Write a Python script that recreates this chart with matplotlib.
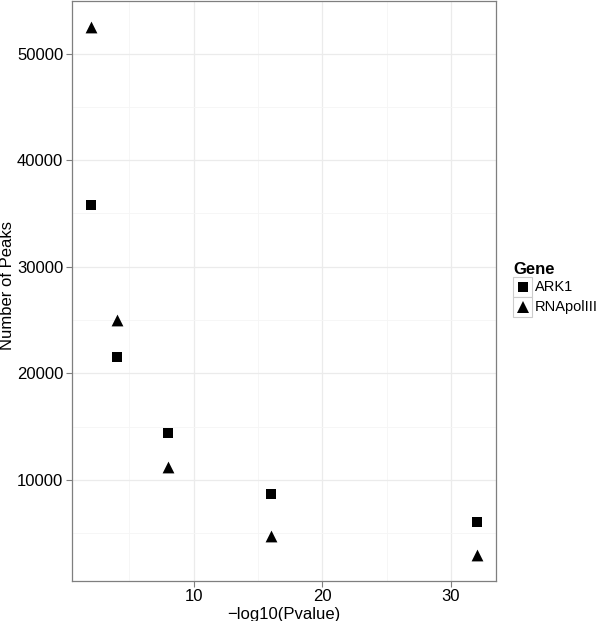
import matplotlib
matplotlib.use("Agg")
import matplotlib.pyplot as plt
from matplotlib.lines import Line2D
from matplotlib.patches import Rectangle

plt.rcParams['font.family'] = ['Liberation Sans', 'DejaVu Sans']

pvalue = [2, 4, 8, 16, 32]
ark1 = [35800, 21500, 14400, 8700, 6100]
rnapol = [52500, 25000, 11200, 4700, 3000]
genes = ["ARK1", "RNApolIII"]
x_ticks = [10, 20, 30]
y_ticks = [10000, 20000, 30000, 40000, 50000]

W, H = 600, 621
fig = plt.figure(figsize=(W/100, H/100), dpi=100)
L, R, T, B = 71.5, 496, 0.5, 581
ax = fig.add_axes([L/W, 1 - B/H, (R-L)/W, (B-T)/H])

ax.scatter(pvalue, ark1, marker='s', s=7.2**2, color='black', zorder=3, linewidths=0)
ax.scatter(pvalue, rnapol, marker='^', s=8.5**2, color='black', zorder=3, linewidths=0)

xmin, xmax = min(pvalue), max(pvalue)
allv = ark1 + rnapol
ymin, ymax = min(allv), max(allv)
ax.set_xlim(xmin - 0.05*(xmax-xmin), xmax + 0.05*(xmax-xmin))
ax.set_ylim(ymin - 0.05*(ymax-ymin), ymax + 0.05*(ymax-ymin))

ax.set_xticks(x_ticks)
ax.set_yticks(y_ticks)
ax.set_xticks([5, 15, 25], minor=True)
ax.set_yticks([5000, 15000, 25000, 35000, 45000], minor=True)
ax.grid(True, which='major', color='#ebebeb', linewidth=0.9)
ax.grid(True, which='minor', color='#f5f5f5', linewidth=0.6)
ax.set_axisbelow(True)
ax.tick_params(which='major', direction='out', length=4, color='#7f7f7f', width=0.8,
               labelsize=12, labelcolor='black', pad=2)
ax.tick_params(which='minor', length=0)
for s in ax.spines.values():
    s.set_color('#7f7f7f')
    s.set_linewidth(0.9)

ax.set_xlabel("\u2212log10(Pvalue)", fontsize=12, labelpad=2)
ax.set_ylabel("Number of Peaks", fontsize=12)
ax.yaxis.set_label_coords((15 - L)/(R - L), (B - 285)/(B - T))

# legend
fig.text(513/W, 1 - 270/H, "Gene", fontsize=12, fontweight='bold', va='center', ha='left')
markers = ['s', '^']
sizes = [7.2, 8.5]
for i, (g, m, ms) in enumerate(zip(genes, markers, sizes)):
    y0 = 277 + i*20
    fig.add_artist(Rectangle((513/W, 1 - (y0+20)/H), 19/W, 20/H, transform=fig.transFigure,
                             facecolor='white', edgecolor='#cccccc', linewidth=0.8))
    fig.add_artist(Line2D([522.5/W], [1 - (y0+10)/H], marker=m, markersize=ms, color='black',
                          linestyle='none', markeredgewidth=0, transform=fig.transFigure))
    fig.text(535/W, 1 - (y0+10)/H, g, fontsize=10.5, va='center', ha='left')

fig.savefig("out.png", dpi=100)
